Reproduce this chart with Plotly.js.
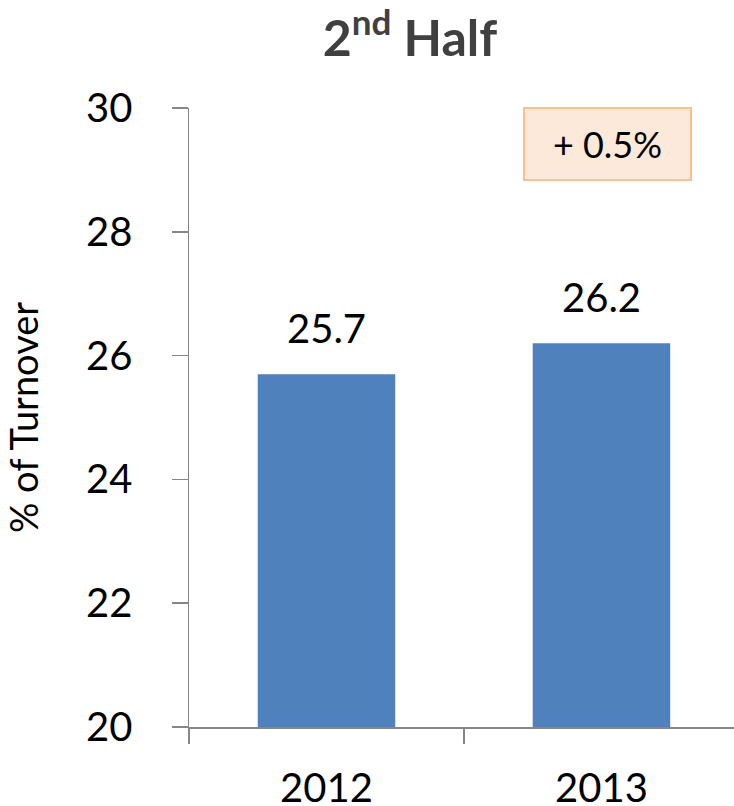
<!DOCTYPE html>
<html>
<head>
<meta charset="utf-8">
<script src="https://cdn.plot.ly/plotly-3.0.1.min.js"></script>
<style>html,body{margin:0;padding:0;background:#fff;}#chart{width:734px;height:806px;}</style>
</head>
<body>
<div id="chart"></div>
<script>
const categories = ['2012', '2013'];
const values = [25.7, 26.2];
const valueLabels = ['25.7', '26.2'];
const yTicks = [20, 22, 24, 26, 28, 30];
const titleText = '2<sup>nd</sup> Half';
const yTitle = '% of Turnover';
const changeLabel = '+ 0.5%';

const FONT = 'Lato, "Open Sans", "Liberation Sans", sans-serif';
const axisColor = '#868686';

const trace = {
  type: 'bar',
  x: categories,
  y: values,
  width: 0.5,
  marker: {color: '#4f81bd', line: {width: 0}},
  hoverinfo: 'skip'
};

const labelAnns = categories.map((c, i) => ({
  x: i, y: values[i], xref: 'x', yref: 'y',
  text: valueLabels[i], showarrow: false,
  yanchor: 'bottom', yshift: 20,
  font: {family: FONT, size: 40, color: '#000'}
}));

const boxAnn = {
  xref: 'paper', yref: 'paper', x: 0.768, y: 0.942,
  xanchor: 'center', yanchor: 'middle',
  text: changeLabel, showarrow: false,
  width: 163, height: 68,
  bgcolor: '#fde9d9', bordercolor: '#fac090', borderwidth: 2,
  font: {family: FONT, size: 36, color: '#000'}
};

const layout = {
  width: 734, height: 806,
  margin: {l: 189, r: 0, t: 108, b: 79, autoexpand: false},
  paper_bgcolor: '#fff', plot_bgcolor: '#fff',
  showlegend: false,
  title: {
    text: titleText, xref: 'container', yref: 'container',
    x: 410 / 734, xanchor: 'center', y: 1 - 38 / 806, yanchor: 'middle',
    font: {family: FONT, size: 50, color: '#404040', weight: 'bold'}
  },
  xaxis: {
    type: 'category', range: [-0.5, 1.482],
    tickson: 'boundaries', ticks: 'outside', ticklen: 15, tickwidth: 1.5, tickcolor: axisColor,
    showline: true, linecolor: axisColor, linewidth: 1.5,
    showgrid: false, zeroline: false, fixedrange: true,
    ticklabelstandoff: 25,
    tickfont: {family: FONT, size: 40, color: '#000'}
  },
  yaxis: {
    range: [20, 30], tickvals: yTicks, ticktext: yTicks.map(String),
    ticks: 'outside', ticklen: 16, tickwidth: 1.5, tickcolor: axisColor,
    showline: true, linecolor: axisColor, linewidth: 1.5,
    showgrid: false, zeroline: false, fixedrange: true,
    ticklabelstandoff: 31,
    tickfont: {family: FONT, size: 40, color: '#000'},
    title: {text: yTitle, standoff: 36, font: {family: FONT, size: 38, color: '#000'}}
  },
  annotations: labelAnns.concat([boxAnn])
};

Plotly.newPlot('chart', [trace], layout, {displayModeBar: false, staticPlot: true});
</script>
</body>
</html>
